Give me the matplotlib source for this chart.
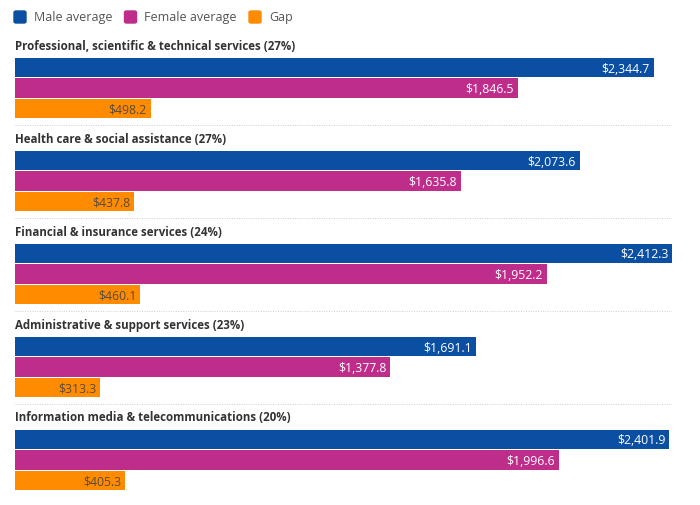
import matplotlib.pyplot as plt
import matplotlib.patches as patches

# data
industries = [
    "Professional, scientific & technical services (27%)",
    "Health care & social assistance (27%)",
    "Financial & insurance services (24%)",
    "Administrative & support services (23%)",
    "Information media & telecommunications (20%)",
]
male_avg = [2344.7, 2073.6, 2412.3, 1691.1, 2401.9]
female_avg = [1846.5, 1635.8, 1952.2, 1377.8, 1996.6]
gap = [498.2, 437.8, 460.1, 313.3, 405.3]
series_names = ["Male average", "Female average", "Gap"]

colors = ["#0b4fa3", "#bf2d8b", "#ff8c00"]
label_colors = ["white", "white", "#5a4a3a"]

plt.rcParams['font.family'] = ['Open Sans', 'DejaVu Sans']

fig = plt.figure(figsize=(7.0, 5.06), dpi=100)
# vertical axis runs in pixels (0 at top)
ax = fig.add_axes([15 / 700, 0, 657 / 700, 1])
ax.set_xlim(0, max(male_avg))
ax.set_ylim(506, 0)
ax.axis('off')

group_step = 93
bar_h = 20.5
for i, name in enumerate(industries):
    top = 46 + group_step * i
    ax.text(0, top, name, fontsize=8.3, fontweight='bold', color='#333333',
            ha='left', va='center')
    vals = [male_avg[i], female_avg[i], gap[i]]
    for j, v in enumerate(vals):
        yc = top + 22.5 + bar_h * j
        ax.barh(yc, v, height=bar_h - 0.6, color=colors[j], edgecolor='none')
        ax.text(v - 14, yc + 0.5, f"${v:,.1f}", fontsize=8.8, color=label_colors[j],
                ha='right', va='center')
    if i < len(industries) - 1:
        ax.axhline(top + 80, xmin=0, xmax=1, color='#cccccc', lw=0.7, ls=(0, (1, 1.5)))

# legend
x = 14
for name, c in zip(series_names, colors):
    fig.patches.append(patches.FancyBboxPatch((x / 700, 1 - 24 / 506), 12 / 700, 12 / 506,
                                              boxstyle="round,pad=0,rounding_size=0.003",
                                              transform=fig.transFigure, color=c))
    t = fig.text((x + 20) / 700, 1 - 18 / 506, name, fontsize=9, color='#555555',
                 ha='left', va='center')
    w = t.get_window_extent(renderer=fig.canvas.get_renderer()).width
    x += 20 + w + 12

fig.savefig("out.png", dpi=100)
